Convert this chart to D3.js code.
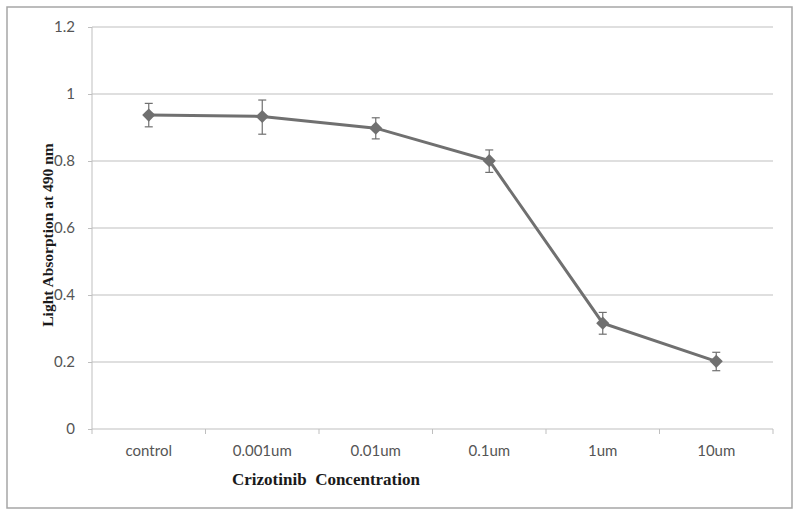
<!DOCTYPE html>
<html><head><meta charset="utf-8">
<script src="https://cdn.jsdelivr.net/npm/d3@7"></script>
<style>body{margin:0;background:#fff}</style>
</head><body>
<svg id="c" width="800" height="517"></svg>
<script>
const categories = ["control","0.001um","0.01um","0.1um","1um","10um"];
const values = [0.937, 0.933, 0.898, 0.801, 0.316, 0.202];
const errLow = [0.902, 0.880, 0.866, 0.766, 0.283, 0.174];
const errHigh = [0.972, 0.982, 0.929, 0.833, 0.348, 0.229];
const yTicks = [0, 0.2, 0.4, 0.6, 0.8, 1, 1.2];

const svg = d3.select("#c");
svg.append("rect").attr("x",7).attr("y",7).attr("width",785).attr("height",501)
  .attr("fill","#fff").attr("stroke","#a6a6a6").attr("stroke-width",1.5);

const L=92, R=773, T=27, B=429;
const x = d3.scaleBand().domain(categories).range([L,R]);
const y = d3.scaleLinear().domain([0,1.2]).range([B,T]);

// gridlines
svg.append("g").selectAll("line").data(yTicks.filter(d=>d>0)).join("line")
  .attr("x1",L).attr("x2",R).attr("y1",d=>y(d)).attr("y2",d=>y(d))
  .attr("stroke","#d4d4d4").attr("stroke-width",1.3);

// y axis
const ya = svg.append("g").attr("transform",`translate(${L},0)`)
  .call(d3.axisLeft(y).tickValues(yTicks).tickFormat(d3.format("~g")).tickSize(4).tickPadding(13));
ya.select(".domain").attr("stroke","#bfbfbf").attr("d",`M0,${T}V${B}`);
ya.selectAll(".tick line").attr("stroke","#bfbfbf");
ya.selectAll("text").attr("font-family","Lato, sans-serif").attr("font-size",15).attr("fill","#555");

// x axis
const xa = svg.append("g").attr("transform",`translate(0,${B})`)
  .call(d3.axisBottom(x).tickSize(0).tickPadding(16));
xa.select(".domain").attr("stroke","#bfbfbf").attr("d",`M${L},0H${R}`);
xa.selectAll("text").attr("font-family","Lato, sans-serif").attr("font-size",15).attr("fill","#555");
const bounds = categories.map(c=>x(c)).concat([R]);
svg.append("g").selectAll("line").data(bounds).join("line")
  .attr("x1",d=>d).attr("x2",d=>d).attr("y1",B).attr("y2",B+5)
  .attr("stroke","#bfbfbf");

const cx = d=>x(d)+x.bandwidth()/2;
const col = "#707070";

// line
svg.append("path").datum(categories)
  .attr("fill","none").attr("stroke",col).attr("stroke-width",3)
  .attr("d", d3.line().x(c=>cx(c)).y((c,i)=>y(values[i])));

// error bars
const eb = svg.append("g").attr("stroke",col).attr("stroke-width",1.2);
categories.forEach((c,i)=>{
  eb.append("line").attr("x1",cx(c)).attr("x2",cx(c)).attr("y1",y(errLow[i])).attr("y2",y(errHigh[i]));
  eb.append("line").attr("x1",cx(c)-4).attr("x2",cx(c)+4).attr("y1",y(errLow[i])).attr("y2",y(errLow[i]));
  eb.append("line").attr("x1",cx(c)-4).attr("x2",cx(c)+4).attr("y1",y(errHigh[i])).attr("y2",y(errHigh[i]));
});

// markers
svg.append("g").selectAll("path").data(categories).join("path")
  .attr("transform",(c,i)=>`translate(${cx(c)},${y(values[i])})`)
  .attr("d", d3.symbol(d3.symbolDiamond2, 110))
  .attr("fill",col);

// titles
svg.append("text").attr("x",326).attr("y",485).attr("text-anchor","middle")
  .attr("font-family","'Liberation Serif', serif").attr("font-weight","bold").attr("font-size",17)
  .attr("fill","#1a1a1a").style("white-space","pre").text("Crizotinib  Concentration");
svg.append("text").attr("transform","translate(53,235) rotate(-90)").attr("text-anchor","middle")
  .attr("font-family","'Liberation Serif', serif").attr("font-weight","bold").attr("font-size",15.5)
  .attr("fill","#1a1a1a").text("Light Absorption at 490 nm");
</script>
</body></html>
